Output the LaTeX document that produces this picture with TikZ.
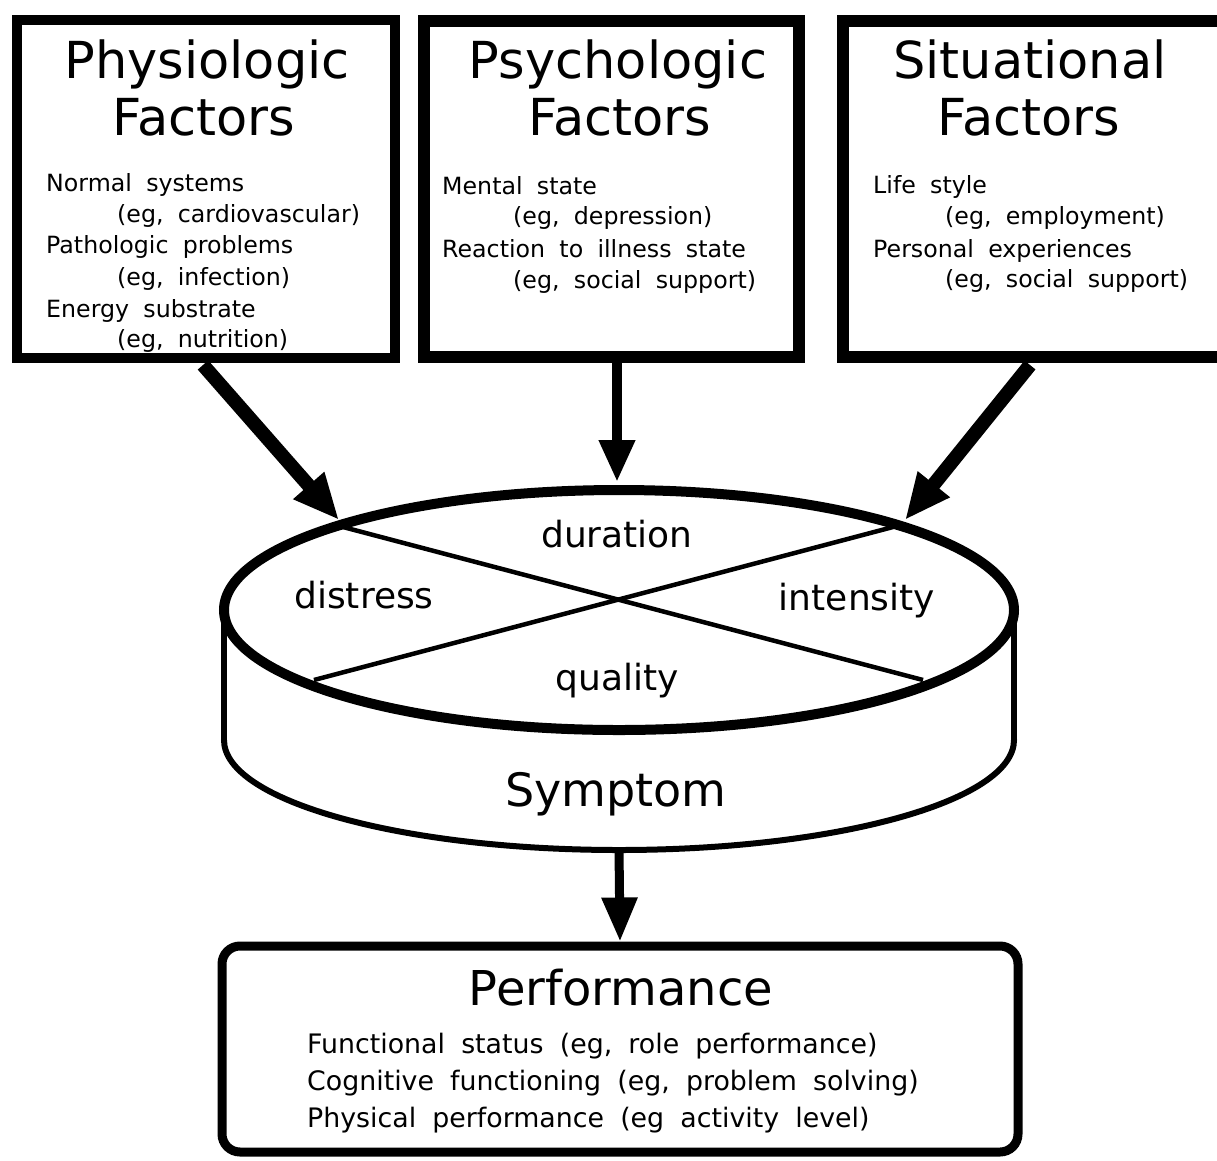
\documentclass[tikz,border=0pt]{standalone}
\usepackage{fontspec}
\setmainfont[WordSpace=1.9]{DejaVu Sans}
\usetikzlibrary{arrows.meta,shapes.geometric}
\begin{document}
\begin{tikzpicture}[x=1pt,y=-1pt,
  factor/.style={draw, line width=#1, inner sep=0pt, minimum width=378pt, minimum height=338pt},
  ttl/.style={font=\fontsize{51}{60}\selectfont, anchor=base, inner sep=0pt},
  sub/.style={font=\fontsize{23.7}{28}\selectfont, anchor=base west, inner sep=0pt},
  perfsub/.style={font=\fontsize{26.8}{30}\selectfont, anchor=base west, inner sep=0pt},
  lab/.style={font=\fontsize{36}{42}\selectfont, anchor=base, inner sep=0pt},
  diagarrow/.style={line width=14pt, -{Triangle[length=46pt,width=38pt]}},
  vertarrow/.style={line width=10pt, -{Triangle[length=42pt,width=34pt]}},
]
\useasboundingbox (0,0) rectangle (1217,1160);

% ---- factor boxes
\node[factor=10pt] (phys) at (206,189) {};
\node[factor=12pt, minimum width=375pt, minimum height=336pt] (psych) at (611.5,189) {};
\node[factor=12pt, minimum width=384pt, minimum height=336pt] (sit) at (1035,189) {};

% titles
\node[ttl] (physT1) at (207,78) {Physiologic};
\node[ttl] (physT2) at (204,135) {Factors};
\node[ttl] (psyT1) at (618,78) {Psychologic};
\node[ttl] (psyT2) at (620,135) {Factors};
\node[ttl] (sitT1) at (1030,78) {Situational};
\node[ttl] (sitT2) at (1029,135) {Factors};

% physiologic items
\node[sub] (p1) at (46,191) {Normal systems};
\node[sub] (p2) at (117,222) {(eg, cardiovascular)};
\node[sub] (p3) at (46,253) {Pathologic problems};
\node[sub] (p4) at (117,285) {(eg, infection)};
\node[sub] (p5) at (46,317) {Energy substrate};
\node[sub] (p6) at (117,347) {(eg, nutrition)};

% psychologic items
\node[sub] (q1) at (442,194) {Mental state};
\node[sub] (q2) at (513,224) {(eg, depression)};
\node[sub] (q3) at (442,257) {Reaction to illness state};
\node[sub] (q4) at (513,288) {(eg, social support)};

% situational items
\node[sub] (s1) at (873,193) {Life style};
\node[sub] (s2) at (945,224) {(eg, employment)};
\node[sub] (s3) at (873,257) {Personal experiences};
\node[sub] (s4) at (945,287) {(eg, social support)};

% ---- symptom cylinder
\node[ellipse, draw, line width=6pt, fill=white, inner sep=0pt,
      minimum width=790pt, minimum height=220pt] (cylbot) at (619,740) {};
\fill[white] (224,610) rectangle (1014,740);
\coordinate (cl1) at (224,610);
\coordinate (cl2) at (224,740);
\coordinate (cr1) at (1014,610);
\coordinate (cr2) at (1014,740);
\draw[line width=6pt] (cl1) -- (cl2);
\draw[line width=6pt] (cr1) -- (cr2);
\node[ellipse, draw, line width=10pt, fill=white, inner sep=0pt,
      minimum width=790pt, minimum height=240pt] (cyltop) at (619,610) {};

\coordinate (xa) at (343,527);
\coordinate (xb) at (923,680);
\coordinate (xc) at (893,527);
\coordinate (xd) at (314,680);
\draw[line width=4.5pt] (xa) -- (xb);
\draw[line width=4.5pt] (xc) -- (xd);

\node[lab] (dur) at (617,547) {duration};
\node[lab] (dis) at (364,608) {distress};
\node[lab] (int) at (857,610) {intensity};
\node[lab] (qua) at (617,690) {quality};
\node[font=\fontsize{46}{52}\selectfont, anchor=base, inner sep=0pt] (sym) at (616,806) {Symptom};

% ---- arrows into the cylinder
\coordinate (t1) at (339,520);
\coordinate (t2) at (617,482);
\coordinate (t3) at (905,520);
\draw[diagarrow] ([xshift=-3pt,yshift=-2pt]phys.south) -- (t1);
\draw[vertarrow] ([xshift=5.5pt]psych.south) -- (t2);
\draw[diagarrow] ([xshift=-5pt,yshift=-2pt]sit.south) -- (t3);

% ---- performance box
\node[draw, line width=9pt, rounded corners=18pt, inner sep=0pt,
      minimum width=796pt, minimum height=206pt] (perf) at (620,1049) {};
\coordinate (cylout) at (619,848);
\draw[line width=9pt, -{Triangle[length=44pt,width=34pt]}] (cylout) -- (perf.north);

\node[font=\fontsize{48}{56}\selectfont, anchor=base, inner sep=0pt] (perfT) at (621,1005) {Performance};
\node[perfsub] (f1) at (307,1053) {Functional status (eg, role performance)};
\node[perfsub] (f2) at (307,1090) {Cognitive functioning (eg, problem solving)};
\node[perfsub] (f3) at (307,1127) {Physical performance (eg activity level)};
\end{tikzpicture}
\end{document}
